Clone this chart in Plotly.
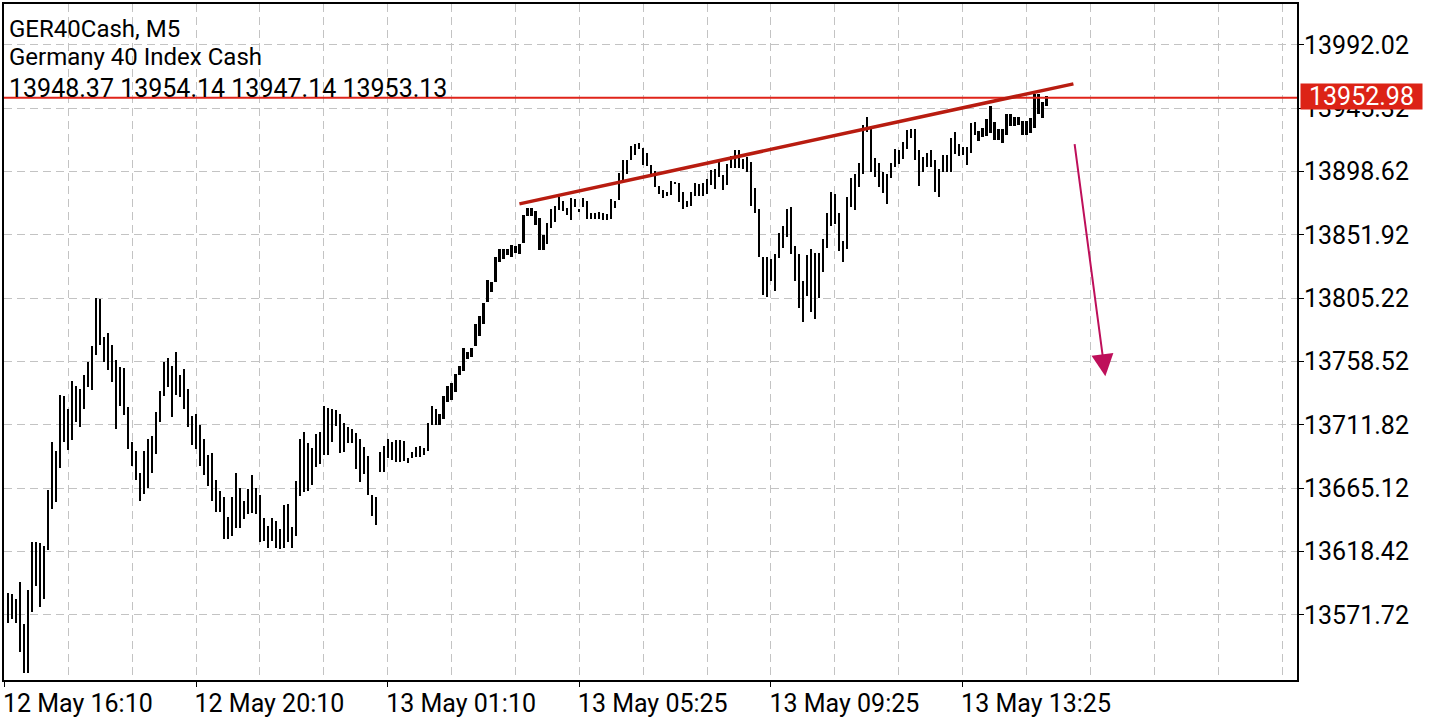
import plotly.graph_objects as go

# ---------------- data ----------------
symbol_line = "GER40Cash, M5"
name_line = "Germany 40 Index Cash"
last_ohlc = [13948.37, 13954.14, 13947.14, 13953.13]
bid_price = 13952.98

highs = [
    13588.2, 13587.3, 13583.8, 13596.0, 13565.4, 13590.2, 13625.2, 13625.2, 13624.7, 13622.3,
    13663.7, 13698.9, 13692.8, 13733.7, 13733.0, 13723.7, 13743.9, 13740.3, 13738.3, 13748.3,
    13758.0, 13770.2, 13805.2, 13804.7, 13776.8, 13779.9, 13771.1, 13759.7, 13754.9, 13754.1,
    13724.9, 13699.4, 13692.8, 13676.3, 13692.3, 13701.3, 13703.8, 13721.3, 13736.6, 13758.5,
    13760.9, 13755.6, 13765.3, 13748.7, 13753.1, 13738.3, 13718.6, 13719.6, 13711.8, 13701.8,
    13689.6, 13690.9, 13671.4, 13663.1, 13658.8, 13644.2, 13658.8, 13676.3, 13665.3, 13655.8,
    13664.8, 13675.0, 13665.3, 13660.0, 13642.9, 13637.6, 13643.4, 13641.3, 13635.4, 13653.1,
    13653.9, 13636.9, 13670.4, 13701.8, 13706.9, 13698.2, 13694.5, 13705.5, 13706.7, 13725.9,
    13724.4, 13723.9, 13723.2, 13720.1, 13713.5, 13710.4, 13709.1, 13706.2, 13701.3, 13695.8,
    13688.7, 13660.0, 13658.8, 13691.6, 13696.5, 13701.8, 13698.9, 13700.9, 13700.9, 13700.1,
    13687.2, 13692.1, 13695.3, 13696.0, 13694.5, 13713.5, 13725.7, 13723.7, 13720.1, 13733.0,
    13740.3, 13742.7, 13749.2, 13755.6, 13768.7, 13765.8, 13768.7, 13786.5, 13792.1, 13801.6,
    13818.6, 13816.9, 13835.9, 13841.7, 13841.7, 13841.7, 13844.8, 13844.1, 13845.3, 13866.7,
    13871.6, 13871.6, 13869.6, 13864.3, 13852.1, 13860.7, 13871.3, 13873.3, 13880.1, 13877.2,
    13872.1, 13878.9, 13878.2, 13871.1, 13879.4, 13876.9, 13868.0, 13868.0, 13869.1, 13868.0,
    13867.2, 13878.2, 13877.2, 13897.9, 13907.4, 13907.4, 13917.8, 13919.0, 13919.8, 13916.1,
    13912.2, 13903.7, 13899.1, 13887.9, 13885.0, 13883.7, 13891.5, 13890.6, 13889.9, 13883.7,
    13877.2, 13883.7, 13889.9, 13889.1, 13889.9, 13893.0, 13899.6, 13900.8, 13908.1, 13896.4,
    13904.5, 13909.8, 13914.7, 13914.2, 13908.1, 13909.1, 13905.4, 13886.2, 13870.9, 13835.6,
    13835.6, 13834.4, 13838.1, 13853.4, 13858.7, 13871.1, 13872.3, 13843.6, 13838.1, 13817.6,
    13836.8, 13841.9, 13838.8, 13838.8, 13849.0, 13868.0, 13883.3, 13881.8, 13868.0, 13847.2,
    13879.6, 13894.2, 13896.6, 13904.9, 13933.1, 13938.5, 13932.4, 13908.8, 13904.9, 13898.3,
    13897.2, 13904.9, 13915.4, 13914.2, 13920.2, 13929.3, 13929.7, 13930.2, 13914.2, 13909.3,
    13912.2, 13914.2, 13906.9, 13900.8, 13910.5, 13910.5, 13923.1, 13927.5, 13919.0, 13917.1,
    13916.6, 13934.1, 13935.3, 13928.8, 13930.4, 13937.7, 13947.0, 13935.3, 13930.0, 13930.0,
    13940.9, 13941.4, 13939.0, 13939.0, 13936.1, 13936.1, 13938.0, 13955.5, 13955.5, 13950.1,
    13954.14,
]

lows = [
    13565.6, 13569.0, 13565.6, 13544.4, 13529.1, 13529.1, 13573.6, 13593.1, 13577.3, 13583.4,
    13619.9, 13649.5, 13655.1, 13680.1, 13698.9, 13693.3, 13700.6, 13714.0, 13710.4, 13723.9,
    13739.5, 13737.8, 13763.3, 13770.6, 13758.5, 13752.4, 13743.2, 13708.6, 13726.1, 13718.8,
    13694.0, 13681.4, 13670.9, 13655.6, 13661.2, 13665.3, 13676.5, 13690.4, 13714.0, 13733.0,
    13739.8, 13717.7, 13734.1, 13732.5, 13723.9, 13710.4, 13696.9, 13694.0, 13681.2, 13675.0,
    13667.0, 13656.1, 13647.3, 13648.0, 13627.6, 13627.6, 13629.6, 13635.6, 13635.6, 13642.2,
    13646.1, 13647.1, 13646.1, 13625.2, 13626.4, 13621.0, 13625.9, 13621.0, 13620.6, 13621.0,
    13625.4, 13621.0, 13630.3, 13659.3, 13662.4, 13663.4, 13667.7, 13680.7, 13683.1, 13689.6,
    13689.6, 13699.6, 13711.1, 13691.1, 13691.6, 13698.4, 13698.2, 13679.4, 13669.7, 13675.8,
    13660.0, 13644.9, 13637.8, 13677.0, 13677.0, 13687.4, 13686.0, 13684.8, 13684.8, 13685.0,
    13683.8, 13687.4, 13688.5, 13688.5, 13689.6, 13692.8, 13711.5, 13711.5, 13711.5, 13715.9,
    13728.6, 13730.5, 13735.9, 13748.7, 13751.7, 13760.4, 13762.2, 13769.9, 13777.2, 13786.5,
    13802.7, 13809.6, 13817.3, 13831.9, 13833.9, 13837.0, 13835.6, 13838.8, 13838.1, 13845.6,
    13865.5, 13866.2, 13859.4, 13840.5, 13840.7, 13845.1, 13857.0, 13861.8, 13870.4, 13869.9,
    13866.7, 13863.1, 13872.3, 13869.1, 13872.3, 13863.8, 13863.8, 13863.8, 13863.6, 13863.1,
    13862.6, 13863.6, 13872.1, 13877.7, 13891.8, 13897.2, 13906.9, 13911.2, 13914.9, 13903.2,
    13902.5, 13894.7, 13887.4, 13882.1, 13878.9, 13880.6, 13881.3, 13889.1, 13876.0, 13870.9,
    13872.8, 13873.3, 13880.6, 13880.6, 13880.6, 13882.1, 13888.6, 13885.5, 13894.7, 13885.0,
    13888.6, 13901.5, 13901.5, 13901.5, 13900.7, 13898.3, 13873.3, 13868.4, 13835.6, 13807.6,
    13806.4, 13818.1, 13810.8, 13835.1, 13842.4, 13850.5, 13838.1, 13818.1, 13797.9, 13787.7,
    13807.1, 13795.0, 13789.6, 13805.4, 13824.6, 13842.4, 13858.2, 13860.2, 13840.0, 13831.9,
    13841.2, 13872.8, 13870.4, 13886.9, 13896.6, 13927.5, 13898.3, 13894.7, 13886.9, 13883.0,
    13874.5, 13893.9, 13902.0, 13903.9, 13908.1, 13915.6, 13923.6, 13906.9, 13887.9, 13898.3,
    13901.8, 13901.8, 13883.7, 13880.1, 13898.3, 13898.3, 13898.3, 13911.8, 13909.8, 13911.2,
    13903.2, 13912.2, 13925.8, 13920.9, 13923.9, 13925.1, 13926.8, 13922.0, 13922.0, 13919.5,
    13925.8, 13932.4, 13932.4, 13932.9, 13925.8, 13925.8, 13926.8, 13930.7, 13941.4, 13938.0,
    13947.14,
]

bar_index = list(range(len(highs)))

time_labels = ["12 May 16:10", "12 May 20:10", "13 May 01:10",
               "13 May 05:25", "13 May 09:25", "13 May 13:25"]
time_label_bars = [-1, 47, 95, 143, 191, 239]

price_ticks = [13571.72, 13618.42, 13665.12, 13711.82, 13758.52,
               13805.22, 13851.92, 13898.62, 13945.32, 13992.02]

# hand-drawn objects (bar index, price)
trend_start = (128, 13874.8)
trend_end = (266.75, 13963.3)
arrow_tail = (267, 13920.0)
arrow_head = (274.75, 13747.8)

# ---------------- figure ----------------
FONT = "Roboto"
GRID = "#c3c3c3"

fig = go.Figure()
fig.add_trace(go.Bar(
    x=bar_index,
    y=[h - l for h, l in zip(highs, lows)],
    base=lows,
    width=0.55,
    marker=dict(color="black", line=dict(width=0)),
    showlegend=False,
    hovertemplate="bar %{x}<br>high %{customdata[0]}<br>low %{customdata[1]}<extra></extra>",
    customdata=list(zip(highs, lows)),
))

# current bid price line
fig.add_shape(type="line", xref="paper", x0=0, x1=1, yref="y",
              y0=bid_price, y1=bid_price,
              line=dict(color="#E0241A", width=2), layer="above")
# trend line
fig.add_shape(type="line", xref="x", yref="y",
              x0=trend_start[0], y0=trend_start[1],
              x1=trend_end[0], y1=trend_end[1],
              line=dict(color="#B81C10", width=3.5), layer="above")

annotations = []
header = [(symbol_line, 27.5, 24), (name_line, 55.5, 24),
          (" ".join(f"{v:.2f}" for v in last_ohlc), 87.0, 25)]
plot_top, plot_bottom = 2, 685
for txt, py, fs in header:
    annotations.append(dict(
        text=txt, xref="paper", yref="paper", x=0, xshift=3,
        y=(plot_bottom - py) / (plot_bottom - plot_top),
        xanchor="left", yanchor="middle", showarrow=False,
        font=dict(family=FONT, size=fs, color="black")))

# price box
annotations.append(dict(
    text=f"{bid_price:.2f}", xref="paper", x=1, xshift=3, xanchor="left",
    yref="y", y=bid_price, yshift=1, yanchor="middle", showarrow=False,
    width=121, height=25, bgcolor="#DC2316", borderpad=0,
    font=dict(family=FONT, size=25, color="white")))

# arrow
annotations.append(dict(
    x=arrow_head[0], y=arrow_head[1], xref="x", yref="y",
    ax=arrow_tail[0], ay=arrow_tail[1], axref="x", ayref="y",
    text="", showarrow=True, arrowhead=2, arrowsize=2.2, arrowwidth=2,
    arrowcolor="#BE0F5A", standoff=0))

fig.update_layout(
    width=1440, height=720,
    margin=dict(l=2, r=143, t=2, b=35),
    paper_bgcolor="white", plot_bgcolor="white",
    font=dict(family=FONT, size=24, color="black"),
    annotations=annotations,
    showlegend=False,
    bargap=0,
)

fig.update_xaxes(
    range=[-1.1, 322.75],
    tickmode="array", tickvals=time_label_bars, ticktext=time_labels,
    ticklabelposition="outside right", ticklabelshift=-3,
    ticks="outside", ticklen=5, tickcolor="black", tickwidth=1,
    tickfont=dict(family=FONT, size=25, color="black"),
    showgrid=True, gridcolor=GRID, griddash="8px,5px", gridwidth=1,
    minor=dict(tick0=-1, dtick=16, showgrid=True, gridcolor=GRID,
               griddash="8px,5px", gridwidth=1, ticks=""),
    showline=True, linecolor="black", linewidth=2, mirror=True,
    zeroline=False, fixedrange=True,
)
fig.update_yaxes(
    side="right",
    range=[13523.78, 14022.16],
    tickmode="array", tickvals=price_ticks,
    ticktext=[f"{v:.2f}" for v in price_ticks],
    ticks="outside", ticklen=5, tickcolor="black", tickwidth=1,
    ticklabelstandoff=-5,
    tickfont=dict(family=FONT, size=25, color="black"),
    showgrid=True, gridcolor=GRID, griddash="8px,5px", gridwidth=1,
    showline=True, linecolor="black", linewidth=2, mirror=True,
    zeroline=False, fixedrange=True,
)

fig.write_html(
    "out.html",
    config={"displayModeBar": False},
    post_script="document.body.style.margin='0';document.body.style.overflow='hidden';",
)
